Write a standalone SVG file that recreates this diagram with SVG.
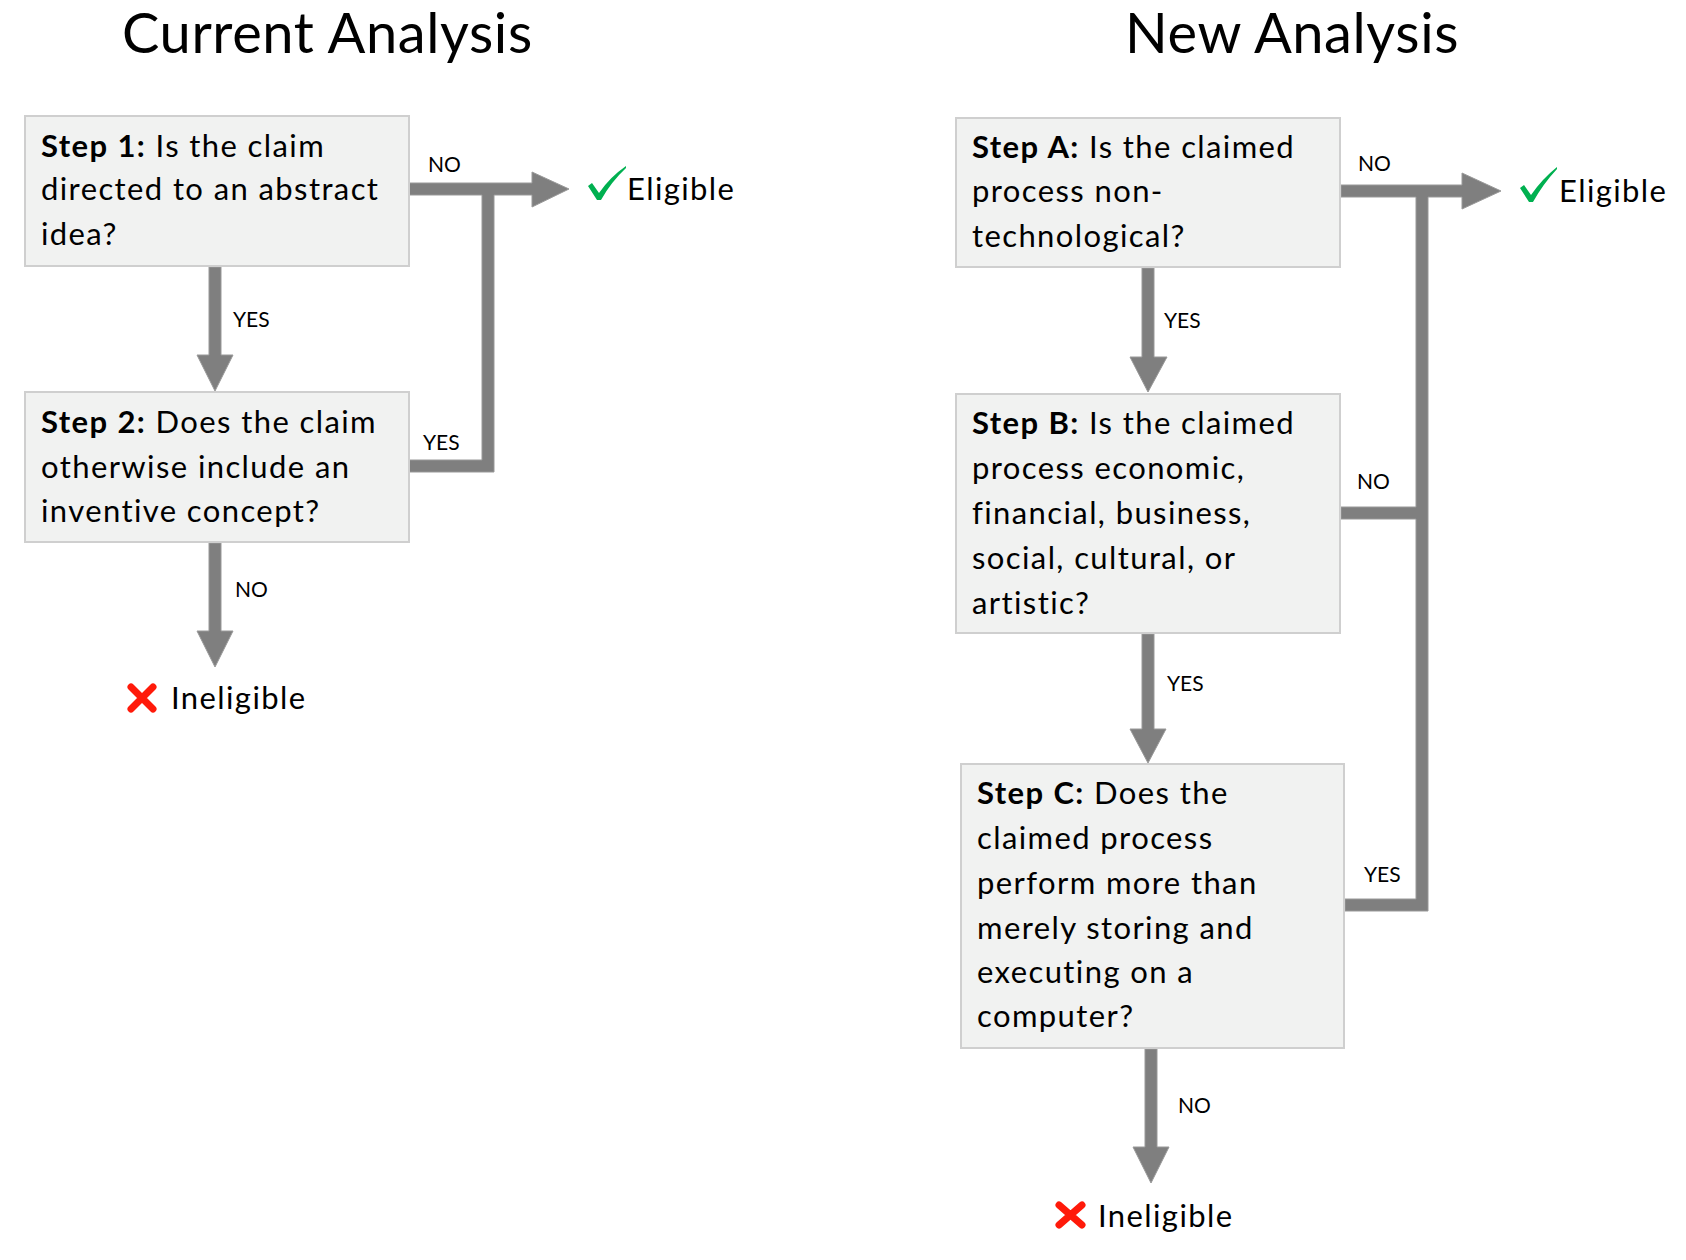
<svg xmlns="http://www.w3.org/2000/svg" width="1686" height="1260" viewBox="0 0 1686 1260">
<style>
.title{font-family:Lato,"Liberation Sans",sans-serif;font-size:56px;letter-spacing:0.6px;fill:#000}
.body{font-family:Lato,"Liberation Sans",sans-serif;font-size:31px;letter-spacing:1.4px;fill:#000}
.b{font-weight:700}
.lbl{font-family:Lato,"Liberation Sans",sans-serif;font-size:21px;fill:#000}
.box{fill:#f1f2f1;stroke:#cfcfcf;stroke-width:2}
.arr{fill:#7f7f7f;stroke:#999;stroke-width:1}
.ok{fill:#00b050}
.no{stroke:#ff1a0a;stroke-width:7;stroke-linecap:round;fill:none}
</style>
<rect width="1686" height="1260" fill="#fff"/>
<text class="title" x="122" y="53">Current Analysis</text>
<text class="title" x="1125" y="53">New Analysis</text>

<g id="connectors">
  <polygon class="arr" points="209,267 221,267 221,355 233,355 215,391 197,355 209,355"/>
  <polygon class="arr" points="209,543 221,543 221,631 233,631 215,667 197,631 209,631"/>
  <polygon class="arr" points="409,183 532,183 532,172 569,189 532,207 532,195 494,195 494,472 409,472 409,460 482,460 482,195 409,195"/>
  <polygon class="arr" points="1142,268 1154,268 1154,357 1167,357 1148,392 1130,357 1142,357"/>
  <polygon class="arr" points="1142,634 1154,634 1154,729 1166,729 1148,763 1130,729 1142,729"/>
  <polygon class="arr" points="1145,1049 1157,1049 1157,1147 1169,1147 1151,1183 1133,1147 1145,1147"/>
  <polygon class="arr" points="1341,185 1462,185 1462,173 1501,191 1462,209 1462,197 1428,197 1428,911 1345,911 1345,899 1416,899 1416,519 1341,519 1341,507 1416,507 1416,197 1341,197"/>
  <text class="lbl" x="233" y="327">YES</text>
  <text class="lbl" x="235" y="597">NO</text>
  <text class="lbl" x="428" y="172">NO</text>
  <text class="lbl" x="423" y="450">YES</text>
  <text class="lbl" x="1164" y="328">YES</text>
  <text class="lbl" x="1167" y="691">YES</text>
  <text class="lbl" x="1178" y="1113">NO</text>
  <text class="lbl" x="1358" y="171">NO</text>
  <text class="lbl" x="1357" y="489">NO</text>
  <text class="lbl" x="1364" y="882">YES</text>
</g>

<g id="step1">
  <rect class="box" x="25" y="116" width="384" height="150"/>
  <text class="body" x="41" y="157"><tspan class="b">Step 1:</tspan> Is the claim</text>
  <text class="body" x="41" y="200">directed to an abstract</text>
  <text class="body" x="41" y="245">idea?</text>
</g>
<g id="step2">
  <rect class="box" x="25" y="392" width="384" height="150"/>
  <text class="body" x="41" y="433"><tspan class="b">Step 2:</tspan> Does the claim</text>
  <text class="body" x="41" y="478">otherwise include an</text>
  <text class="body" x="41" y="522">inventive concept?</text>
</g>
<g id="eligible-left">
  <path class="ok" d="M588,186 L592,183 L599,193 Q610,177 626,166 L626,168 Q611,182 601,200 L597,200 Z"/>
  <text class="body" x="627" y="200">Eligible</text>
</g>
<g id="ineligible-left">
  <path class="no" d="M131,687 L153,709 M153,687 L131,709"/>
  <text class="body" x="171" y="709">Ineligible</text>
</g>

<g id="stepA">
  <rect class="box" x="956" y="118" width="384" height="149"/>
  <text class="body" x="972" y="158"><tspan class="b">Step A:</tspan> Is the claimed</text>
  <text class="body" x="972" y="202">process non-</text>
  <text class="body" x="972" y="247">technological?</text>
</g>
<g id="stepB">
  <rect class="box" x="956" y="394" width="384" height="239"/>
  <text class="body" x="972" y="434"><tspan class="b">Step B:</tspan> Is the claimed</text>
  <text class="body" x="972" y="479">process economic,</text>
  <text class="body" x="972" y="524">financial, business,</text>
  <text class="body" x="972" y="569">social, cultural, or</text>
  <text class="body" x="972" y="614">artistic?</text>
</g>
<g id="stepC">
  <rect class="box" x="961" y="764" width="383" height="284"/>
  <text class="body" x="977" y="804"><tspan class="b">Step C:</tspan> Does the</text>
  <text class="body" x="977" y="849">claimed process</text>
  <text class="body" x="977" y="894">perform more than</text>
  <text class="body" x="977" y="939">merely storing and</text>
  <text class="body" x="977" y="983">executing on a</text>
  <text class="body" x="977" y="1027">computer?</text>
</g>
<g id="eligible-right">
  <path class="ok" d="M1520,188 L1524,185 L1531,195 Q1542,179 1557,167 L1557,169 Q1543,184 1533,202 L1529,202 Z"/>
  <text class="body" x="1559" y="202">Eligible</text>
</g>
<g id="ineligible-right">
  <path class="no" d="M1059,1205 L1082,1225 M1082,1205 L1059,1225"/>
  <text class="body" x="1098" y="1227">Ineligible</text>
</g>
</svg>
